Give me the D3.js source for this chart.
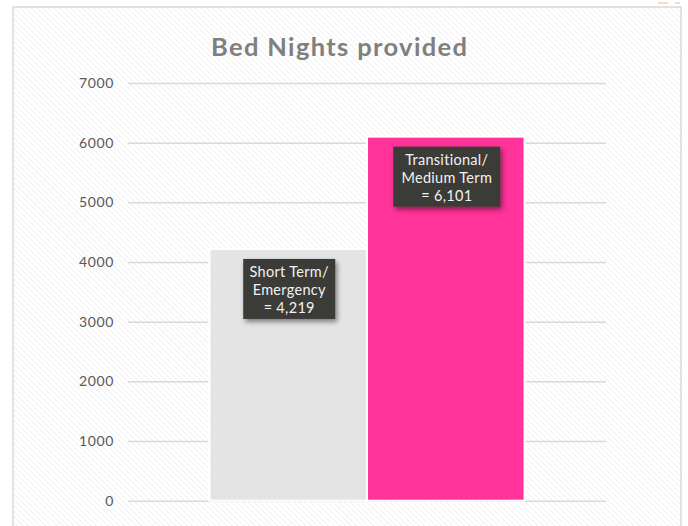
<!DOCTYPE html>
<html>
<head>
<meta charset="utf-8">
<script src="https://cdn.jsdelivr.net/npm/d3@7"></script>
<style>
  body { margin: 0; background: #fff; }
  svg text { font-family: "Lato", "Open Sans", sans-serif; }
</style>
</head>
<body>
<div id="chart-area"></div>
<script>
// chart data
const seriesNames = ["Short Term/ Emergency", "Transitional/ Medium Term"]
const seriesValues = [4219, 6101]
const seriesColors = ["#e4e4e4", "#ff3399"]
const labelLines = [["Short Term/", "Emergency", "= 4,219"], ["Transitional/", "Medium Term", "= 6,101"]]
const yTicks = [0, 1000, 2000, 3000, 4000, 5000, 6000, 7000]

const svg = d3.select("#chart-area")
    .append("svg")
    .attr("width", 688)
    .attr("height", 526)

const defs = svg.append("defs")

// diagonal hatch background
const pat = defs.append("pattern")
    .attr("id", "hatch")
    .attr("patternUnits", "userSpaceOnUse")
    .attr("width", 4)
    .attr("height", 4)
    .attr("patternTransform", "rotate(-45)")
pat.append("rect").attr("width", 4).attr("height", 4).attr("fill", "#ffffff")
pat.append("line")
    .attr("x1", 0).attr("y1", 0).attr("x2", 0).attr("y2", 4)
    .attr("stroke", "#eeeeee")
    .attr("stroke-width", 1.6)

const shadow = defs.append("filter")
    .attr("id", "shadow")
    .attr("x", "-20%").attr("y", "-20%")
    .attr("width", "150%").attr("height", "150%")
shadow.append("feDropShadow")
    .attr("dx", 2).attr("dy", 3)
    .attr("stdDeviation", 2.5)
    .attr("flood-color", "#000")
    .attr("flood-opacity", 0.45)

// chart area frame
svg.append("rect")
    .attr("x", 13).attr("y", 7)
    .attr("width", 668).attr("height", 530)
    .attr("fill", "url(#hatch)")
    .attr("stroke", "#d9d9d9")
    .attr("stroke-width", 1.5)

// little orange marks top right
svg.append("line")
    .attr("x1", 658).attr("x2", 668).attr("y1", 3).attr("y2", 3)
    .attr("stroke", "#f9cfa8").attr("stroke-width", 1.5)
svg.append("line")
    .attr("x1", 675).attr("x2", 680).attr("y1", 3).attr("y2", 3)
    .attr("stroke", "#f9cfa8").attr("stroke-width", 1.5)

svg.append("text")
    .attr("x", 339)
    .attr("y", 56)
    .attr("text-anchor", "middle")
    .attr("font-size", 25.5)
    .attr("font-weight", "bold")
    .attr("fill", "#7f7f7f")
    .attr("textLength", 256)
    .attr("lengthAdjust", "spacing")
    .text("Bed Nights provided")

const y = d3.scaleLinear()
    .domain([0, 7000])
    .range([500.7, 83])

const x = d3.scaleBand()
    .domain(seriesNames)
    .range([128, 606])
    .paddingInner(0)
    .paddingOuter(0.517)

// gridlines + tick labels
const yAxisCall = d3.axisLeft(y)
    .tickValues(yTicks)
    .tickSize(-478)
    .tickPadding(14)
    .tickFormat(d => d)

const yAxis = svg.append("g")
    .attr("class", "y axis")
    .attr("transform", "translate(128, 0)")
    .call(yAxisCall)
yAxis.select(".domain").remove()
yAxis.selectAll("line")
    .attr("stroke", "#d9d9d9")
    .attr("stroke-width", 1.5)
yAxis.selectAll("text")
    .attr("font-size", 14)
    .attr("letter-spacing", 0.6)
    .attr("fill", "#595959")
    .attr("font-family", "Lato, sans-serif")

// bars
svg.selectAll("rect.bar")
    .data(seriesValues)
    .enter().append("rect")
    .attr("class", "bar")
    .attr("x", (d, i) => x(seriesNames[i]))
    .attr("y", d => y(d))
    .attr("width", x.bandwidth())
    .attr("height", d => y(0) - y(d))
    .attr("fill", (d, i) => seriesColors[i])
    .attr("stroke", "#ffffff")
    .attr("stroke-width", 2)

// data labels
const boxW = [92, 107]
const labels = svg.selectAll("g.label")
    .data(seriesValues)
    .enter().append("g")
    .attr("class", "label")
    .attr("transform", (d, i) => `translate(${x(seriesNames[i]) + x.bandwidth() / 2 + 1}, ${y(d) + 10})`)

labels.append("rect")
    .attr("x", (d, i) => -boxW[i] / 2)
    .attr("y", 0)
    .attr("width", (d, i) => boxW[i])
    .attr("height", 60)
    .attr("fill", "#3a3a38")
    .attr("filter", "url(#shadow)")

labels.each(function (d, i) {
    d3.select(this).selectAll("text")
        .data(labelLines[i])
        .enter().append("text")
        .attr("x", 0)
        .attr("y", (t, j) => 18 + j * 18)
        .attr("text-anchor", "middle")
        .attr("font-size", 14.5)
        .attr("letter-spacing", 0.3)
        .attr("fill", "#f2f2f2")
        .text(t => t)
})
</script>
</body>
</html>
